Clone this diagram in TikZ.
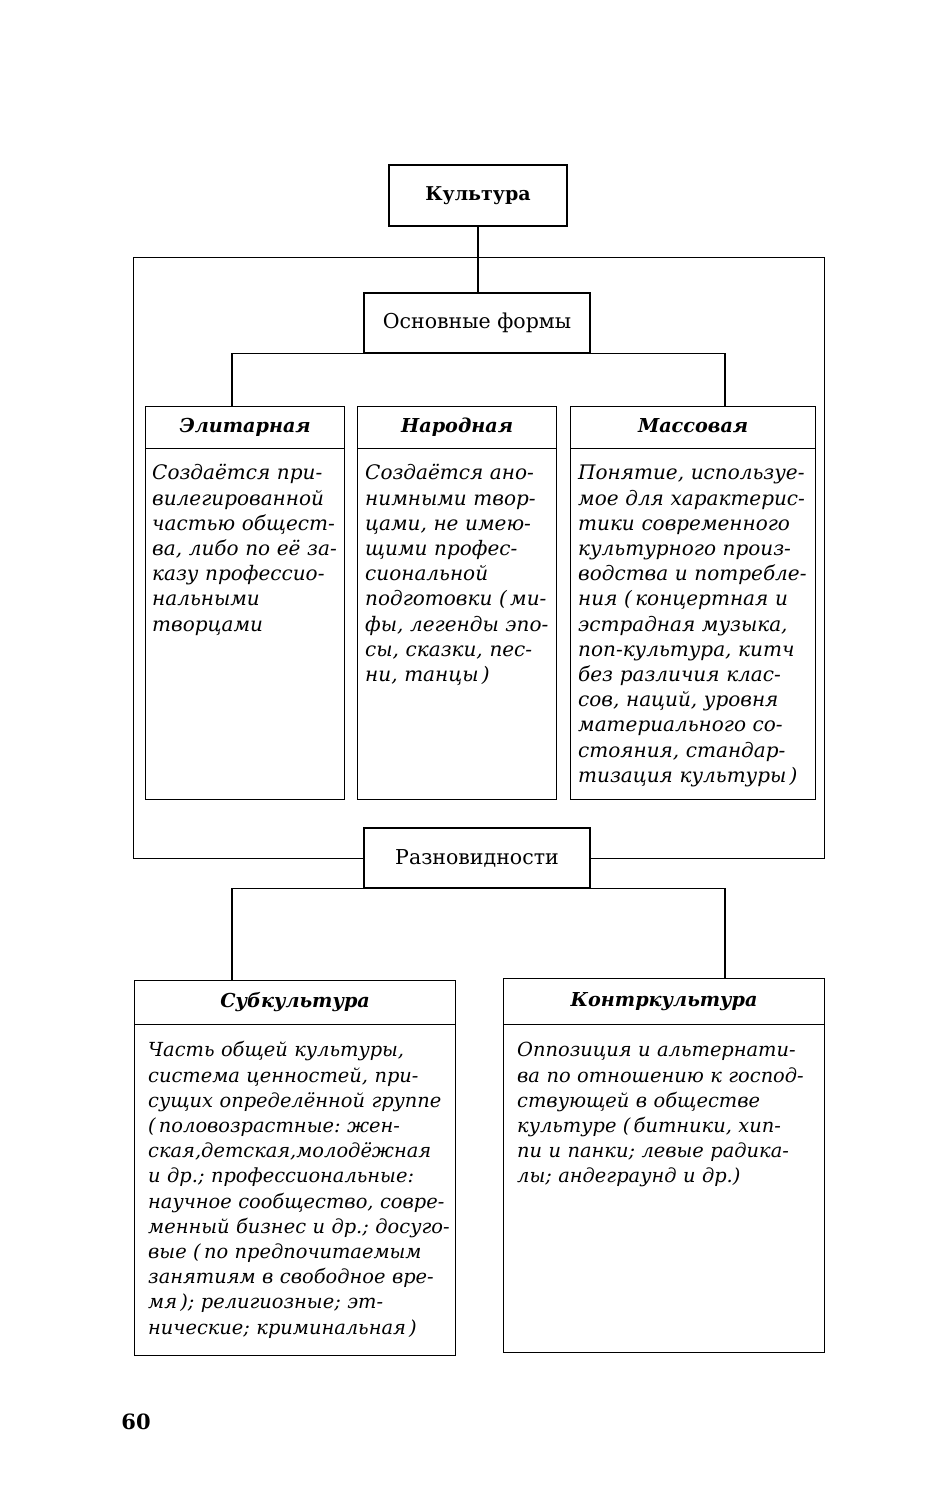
\documentclass[tikz,border=0pt]{standalone}
\usepackage{fontspec}
\setmainfont{DejaVu Serif}
\newcommand\topfont{\fontsize{19}{24}\selectfont\bfseries}
\newcommand\midfont{\fontsize{20.5}{24}\selectfont}
\newcommand\headfont{\fontsize{19.2}{24}\selectfont\bfseries\itshape}
\newcommand\bodyfont{\fontsize{20}{25.2}\selectfont\itshape\frenchspacing}
\newcommand\lowbodyfont{\fontsize{19.4}{25.2}\selectfont\itshape\frenchspacing}
\newcommand\pagefont{\fontsize{21}{24}\selectfont\bfseries}
\begin{document}
\begin{tikzpicture}[x=1pt,y=-1pt,
  ln/.style={line width=1.3pt},
  box/.style={draw,ln,fill=white,inner sep=0pt},
  card/.style={draw,ln,inner sep=0pt,anchor=north west},
  hdr/.style={draw,ln,inner sep=0pt,anchor=north west,font=\headfont,text height=14pt,text depth=5pt},
  body/.style={inner sep=0pt,anchor=north west,align=left,text width=#1,font=\bodyfont},
  lowbody/.style={body=#1,font=\lowbodyfont}]
\fill[white] (0,0) rectangle (930,1500);
\useasboundingbox (0,0) rectangle (930,1500);

% outer frame
\node[card,minimum width=691,minimum height=601] (frame) at (133,257) {};

% top boxes
\node[box,minimum width=178,minimum height=61,font=\topfont] (kult) at (478,195.5) {Культура};
\node[box,minimum width=226,minimum height=60,font=\midfont] (osn) at (477,323) {Основные формы};
\node[box,minimum width=226,minimum height=60,font=\midfont] (razn) at (477,858) {Разновидности};

% three forms
\node[card,minimum width=199,minimum height=393] (el) at (145,406) {};
\node[hdr,minimum width=199,minimum height=42] (elh) at (145,406) {Элитарная};
\node[card,minimum width=199,minimum height=393] (nar) at (357,406) {};
\node[hdr,minimum width=199,minimum height=42] (narh) at (357,406) {Народная};
\node[card,minimum width=245,minimum height=393] (mas) at (570,406) {};
\node[hdr,minimum width=245,minimum height=42] (mash) at (570,406) {Массовая};

\node[body=230] (elb) at (152,462) {\strut Создаётся при-\\вилегированной\\частью общест-\\ва, либо по её за-\\казу профессио-\\нальными\\творцами};
\node[body=230] (narb) at (365,462) {\strut Создаётся ано-\\нимными твор-\\цами, не имею-\\щими профес-\\сиональной\\подготовки (\,ми-\\фы, легенды эпо-\\сы, сказки, пес-\\ни, танцы\,)};
\node[body=280] (masb) at (578,462) {\strut Понятие, используе-\\мое для характерис-\\тики современного\\культурного произ-\\водства и потребле-\\ния (\,концертная и\\эстрадная музыка,\\поп-культура, китч\\без различия клас-\\сов, наций, уровня\\материального со-\\стояния, стандар-\\тизация культуры\,)};

% varieties
\node[card,minimum width=321,minimum height=375] (sub) at (134,980) {};
\node[hdr,minimum width=321,minimum height=44] (subh) at (134,980) {Субкультура};
\node[card,minimum width=321,minimum height=374] (kon) at (503,978) {};
\node[hdr,minimum width=321,minimum height=46] (konh) at (503,978) {Контркультура};

\node[lowbody=380] (subb) at (148,1039) {\strut Часть общей культуры,\\система ценностей, при-\\сущих определённой группе\\(\,половозрастные: жен-\\ская,детская,молодёжная\\и др.; профессиональные:\\научное сообщество, совре-\\менный бизнес и др.; досуго-\\вые (\,по предпочитаемым\\занятиям в свободное вре-\\мя\,); религиозные; эт-\\нические; криминальная\,)};
\node[lowbody=380] (konb) at (517,1039) {\strut Оппозиция и альтернати-\\ва по отношению к господ-\\ствующей в обществе\\культуре (\,битники, хип-\\пи и панки; левые радика-\\лы; андеграунд и др.)};

% connectors
\coordinate (t1) at (232,353);
\coordinate (t2) at (725,353);
\coordinate (b1) at (232,888);
\coordinate (b2) at (725,888);
\draw[ln] (kult.south) -- (kult.south |- osn.north);
\draw[ln] (elh.north -| t1) |- (osn.south) -| (mash.north -| t2);
\draw[ln] (subh.north -| b1) |- (razn.south) -| (konh.north -| b2);

\node[font=\pagefont,inner sep=0pt] (pg) at (136,1422) {60};
\end{tikzpicture}
\end{document}
